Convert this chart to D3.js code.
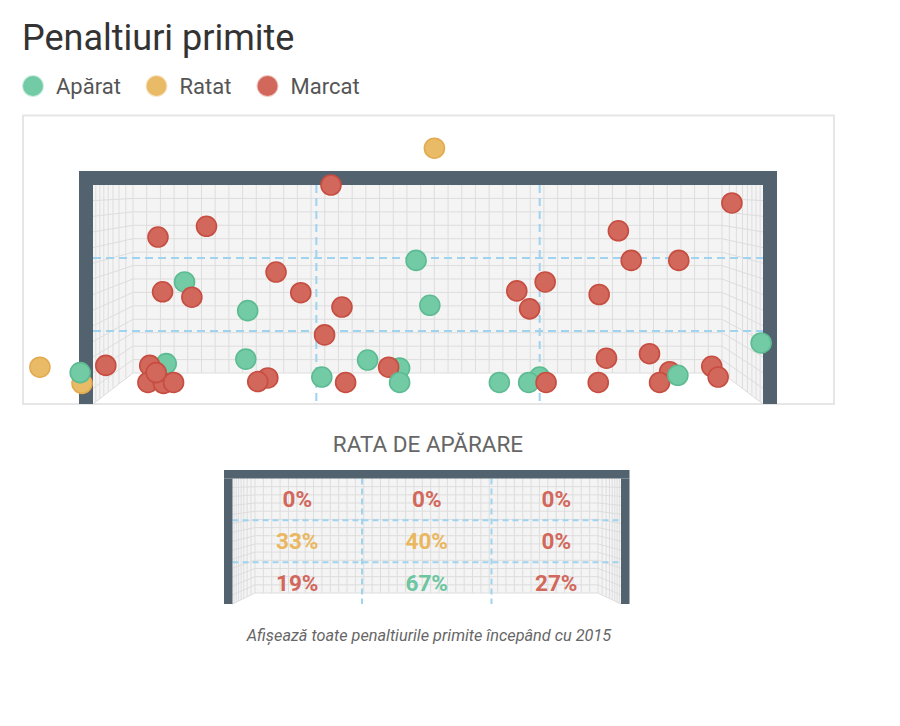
<!DOCTYPE html>
<html>
<head>
<meta charset="utf-8">
<script src="https://cdn.jsdelivr.net/npm/d3@7"></script>
<style>
  body { margin: 0; background: #fff; }
  svg { display: block; font-family: Roboto, "Noto Sans", sans-serif; }
</style>
</head>
<body>
<svg width="900" height="726"></svg>
<script>
// every penalty: x = metres from the left post, y = metres above the ground
var shotX = [-0.58, -0.12, -0.14, 0.14, 0.71, 1.24, 1.00, 0.76, 1.08, 1.69, 2.00, 2.27, 1.67,
             0.80, 0.62, 0.60, 0.77, 0.88, 0.69, 1.91, 1.80, 2.50, 3.73, 2.60, 2.72, 2.53,
             3.53, 3.68, 4.63, 4.94, 4.77, 2.76, 3.00, 3.35, 3.23, 3.35, 4.44, 4.88, 4.76,
             4.95, 6.98, 5.74, 5.88, 6.40, 5.53, 7.30, 5.61, 6.08, 5.52, 6.30, 6.19, 6.39,
             6.76, 6.83];
var shotY = [0.41, 0.23, 0.35, 0.43, 1.86, 1.98, 1.36, 1.25, 1.19, 1.04, 1.47, 1.24, 0.50,
             0.45, 0.43, 0.24, 0.23, 0.24, 0.35, 0.29, 0.25, 0.30, 2.85, 2.44, 1.08, 0.77,
             1.60, 1.10, 1.26, 1.36, 1.06, 0.24, 0.49, 0.40, 0.41, 0.24, 0.24, 0.30, 0.24,
             0.24, 2.24, 1.93, 1.60, 1.60, 1.22, 0.68, 0.51, 0.56, 0.24, 0.36, 0.24, 0.32,
             0.42, 0.30];
var shotResult = ["missed", "missed", "saved", "scored", "scored", "scored", "saved", "scored",
                  "scored", "saved", "scored", "scored", "saved", "saved", "scored", "scored",
                  "scored", "scored", "scored", "scored", "scored", "saved", "missed", "scored",
                  "scored", "scored", "saved", "saved", "scored", "scored", "scored", "scored",
                  "saved", "saved", "scored", "saved", "saved", "saved", "saved", "scored",
                  "scored", "scored", "scored", "scored", "scored", "saved", "scored", "scored",
                  "scored", "scored", "scored", "saved", "scored", "scored"];

var resultKeys = ["saved", "missed", "scored"];
var legendLabels = ["Apărat", "Ratat", "Marcat"];

// save rate per zone, top row first, left to right
var saveRate = [[0, 0, 0], [33, 40, 0], [19, 67, 27]];

var goalWidth = 7.32, goalHeight = 2.44;

var svg = d3.select("svg");

var fill = d3.scaleOrdinal().domain(resultKeys).range(["#72cba5", "#eabb67", "#d2675b"]);
var edge = d3.scaleOrdinal().domain(resultKeys).range(["#5dbb92", "#e3aa4e", "#c64d40"]);
var rateColor = d3.scaleThreshold().domain([30, 50]).range(["#d2675b", "#eab75f", "#6cc69f"]);

// title + legend
svg.append("text")
  .attr("x", 22).attr("y", 50)
  .attr("font-size", 36).attr("fill", "#333")
  .text("Penaltiuri primite");

var legend = svg.append("g").selectAll("g")
  .data(resultKeys)
  .join("g")
  .attr("transform", function (d, i) { return "translate(" + [33, 156.5, 267.5][i] + ",86)"; });

legend.append("circle")
  .attr("r", 10)
  .attr("fill", d => fill(d))
  .attr("stroke", d => fill(d))
  .attr("stroke-opacity", 0.35)
  .attr("stroke-width", 2);

legend.append("text")
  .attr("x", 23).attr("y", 8)
  .attr("font-size", 22).attr("fill", "#555")
  .text(function (d, i) { return legendLabels[i]; });

// goal drawing: frame, net with side walls, zone lines
function drawGoal(g, o) {
  var depthL = o.bx0 - o.x0, depthR = o.x1 - o.bx1, drop = o.bot - o.bbot;

  g.append("path")
    .attr("d", d3.line()([[o.x0, o.top], [o.x1, o.top], [o.x1, o.bot], [o.bx1, o.bbot],
                          [o.bx0, o.bbot], [o.x0, o.bot]]) + "Z")
    .attr("fill", "#f4f4f4");

  var nx = Math.round((o.bx1 - o.bx0) / o.cell),
      ny = Math.round((o.bbot - o.top) / o.cell);
  var xs = d3.range(nx + 1).map(i => o.bx0 + i * (o.bx1 - o.bx0) / nx);
  var ys = d3.range(1, ny + 1).map(i => o.top + i * (o.bbot - o.top) / ny);
  var front = y => o.top + (y - o.top) * (o.bot - o.top) / (o.bbot - o.top);

  var lines = [];
  xs.forEach(x => lines.push([[x, o.top], [x, o.bbot]]));
  ys.forEach(y => {
    lines.push([[o.bx0, y], [o.bx1, y]]);
    lines.push([[o.bx0, y], [o.x0, front(y)]]);
    lines.push([[o.bx1, y], [o.x1, front(y)]]);
  });
  [0.07, 0.17, 0.27, 0.38, 0.5, 0.65, 0.82].forEach(t => {
    lines.push([[o.x0 + t * depthL, o.top], [o.x0 + t * depthL, o.bot - t * drop]]);
    lines.push([[o.x1 - t * depthR, o.top], [o.x1 - t * depthR, o.bot - t * drop]]);
  });

  g.append("g").selectAll("path")
    .data(lines)
    .join("path")
    .attr("d", d3.line())
    .attr("fill", "none")
    .attr("stroke", "#dddddd")
    .attr("stroke-width", 1);

  var zx = d3.scaleLinear().domain([0, 3]).range([o.x0, o.x1]);
  var zy = d3.scaleLinear().domain([0, 3]).range([o.top, o.bot]);
  var dash = g.append("g")
    .attr("stroke", "#9fd3ef")
    .attr("stroke-width", 2)
    .attr("stroke-dasharray", o.dash);
  dash.selectAll("line.v").data([1, 2]).join("line")
    .attr("x1", d => zx(d)).attr("x2", d => zx(d))
    .attr("y1", o.top).attr("y2", o.bot);
  dash.selectAll("line.h").data([1, 2]).join("line")
    .attr("y1", d => zy(d)).attr("y2", d => zy(d))
    .attr("x1", o.x0).attr("x2", o.x1);

  var frame = g.append("g").attr("fill", "#53626f");
  frame.append("rect").attr("x", o.x0 - o.post).attr("y", o.top - o.post)
    .attr("width", o.x1 - o.x0 + 2 * o.post).attr("height", o.post);
  frame.append("rect").attr("x", o.x0 - o.post).attr("y", o.top)
    .attr("width", o.post).attr("height", o.bot - o.top);
  frame.append("rect").attr("x", o.x1).attr("y", o.top)
    .attr("width", o.post).attr("height", o.bot - o.top);

  return { zx: zx, zy: zy };
}

// main goal
svg.append("rect")
  .attr("x", 23).attr("y", 115.5)
  .attr("width", 811).attr("height", 288.5)
  .attr("fill", "#fff")
  .attr("stroke", "#e6e6e6")
  .attr("stroke-width", 2);

var main = svg.append("g");
var big = { x0: 93, x1: 763, top: 185, bot: 404, bx0: 133, bx1: 722, bbot: 373,
            cell: 13.7, post: 14, dash: "8,5" };
drawGoal(main, big);

var x = d3.scaleLinear().domain([0, goalWidth]).range([big.x0, big.x1]);
var y = d3.scaleLinear().domain([0, goalHeight]).range([big.bot, big.top]);

main.append("g").selectAll("circle")
  .data(shotX.map((d, i) => ({ x: d, y: shotY[i], r: shotResult[i] })))
  .join("circle")
  .attr("cx", d => x(d.x))
  .attr("cy", d => y(d.y))
  .attr("r", 10)
  .attr("fill", d => fill(d.r))
  .attr("stroke", d => edge(d.r))
  .attr("stroke-width", 1.6);

// save rate goal
svg.append("text")
  .attr("x", 428).attr("y", 452)
  .attr("text-anchor", "middle")
  .attr("font-size", 22.5).attr("fill", "#666")
  .text("RATA DE APĂRARE");

var small = { x0: 232.5, x1: 621, top: 478.5, bot: 604, bx0: 255, bx1: 598, bbot: 593,
              cell: 8.3, post: 8.5, dash: "6,4" };
var smallG = svg.append("g");
var z = drawGoal(smallG, small);

var cells = [];
saveRate.forEach((row, r) => row.forEach((v, c) => cells.push({ r: r, c: c, v: v })));

smallG.append("g").selectAll("text")
  .data(cells)
  .join("text")
  .attr("x", d => z.zx(d.c + 0.5))
  .attr("y", d => z.zy(d.r + 0.5) + 8)
  .attr("text-anchor", "middle")
  .attr("font-size", 22.5)
  .attr("font-weight", "bold")
  .attr("fill", d => rateColor(d.v))
  .text(d => d.v + "%");

svg.append("text")
  .attr("x", 429).attr("y", 641)
  .attr("text-anchor", "middle")
  .attr("font-size", 16.3)
  .attr("font-style", "italic")
  .attr("fill", "#666")
  .text("Afișează toate penaltiurile primite începând cu 2015");
</script>
</body>
</html>
